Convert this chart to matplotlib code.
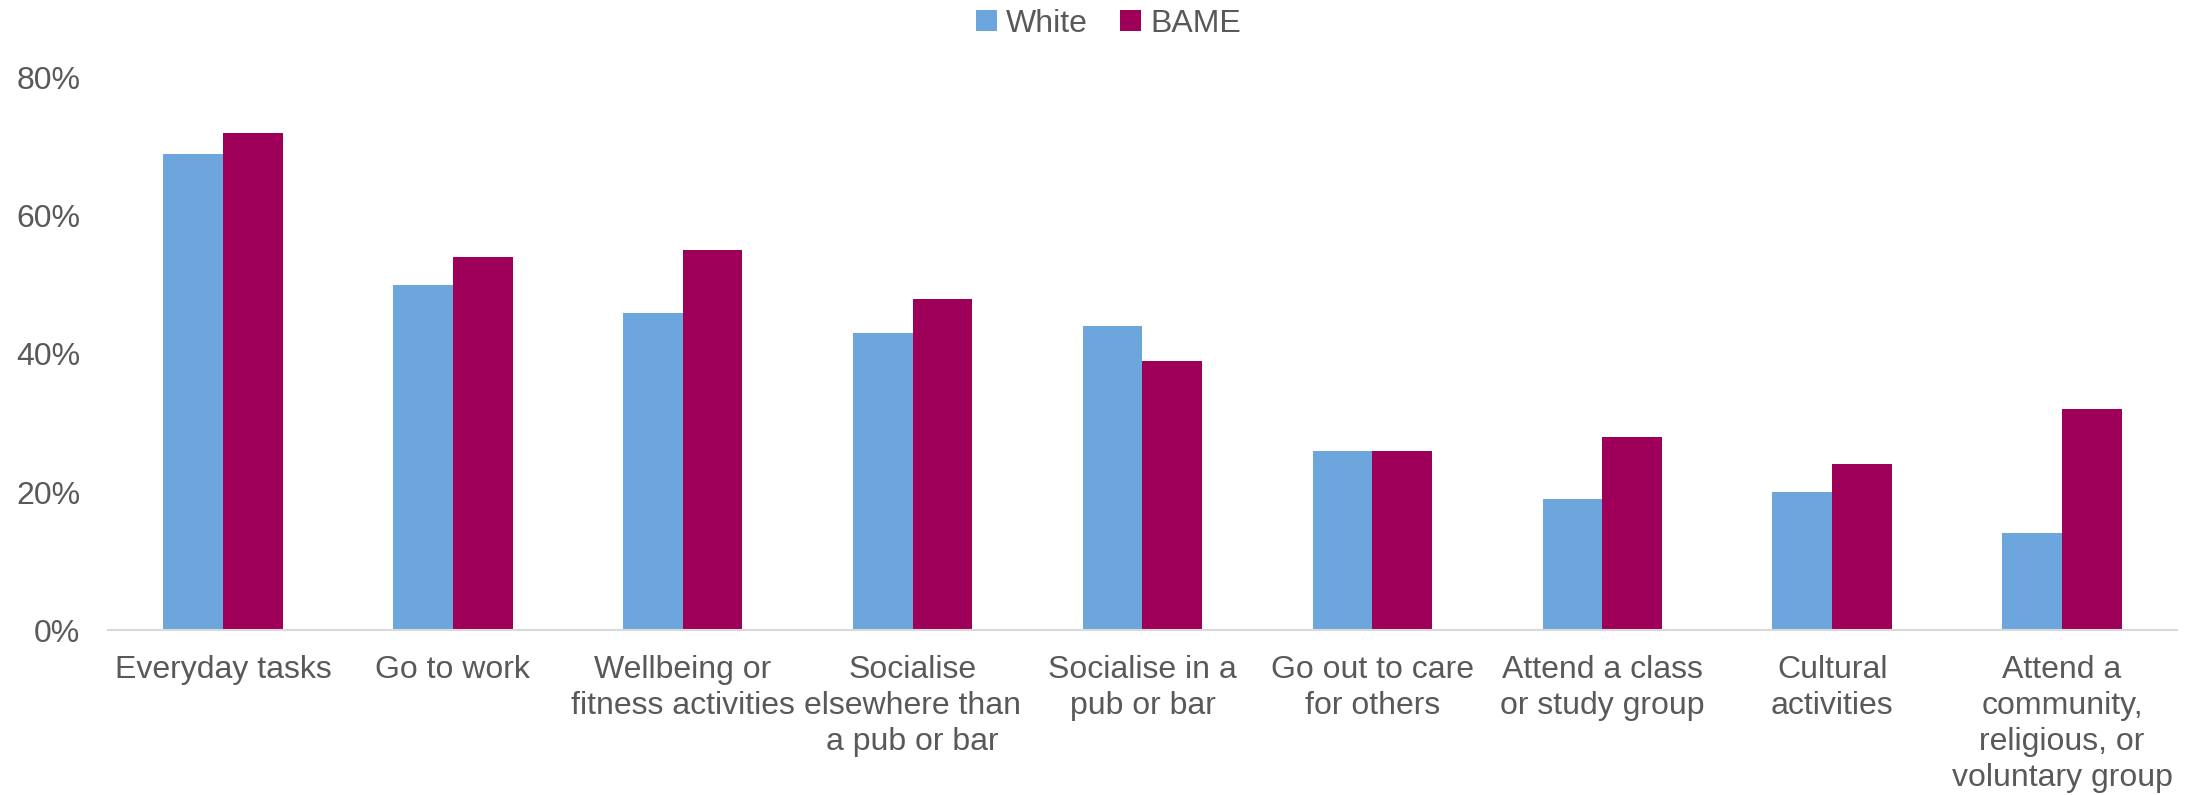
import numpy as np
import matplotlib
matplotlib.use("Agg")
import matplotlib.pyplot as plt

categories = [
    "Everyday tasks",
    "Go to work",
    "Wellbeing or\nfitness activities",
    "Socialise\nelsewhere than\na pub or bar",
    "Socialise in a\npub or bar",
    "Go out to care\nfor others",
    "Attend a class\nor study group",
    "Cultural\nactivities",
    "Attend a\ncommunity,\nreligious, or\nvoluntary group",
]
white = [69, 50, 46, 43, 44, 26, 19, 20, 14]
bame = [72, 54, 55, 48, 39, 26, 28, 24, 32]
yticks = [0, 20, 40, 60, 80]

plt.rcParams["font.family"] = ["Liberation Sans", "DejaVu Sans"]
text_col = "#595959"

fig = plt.figure(figsize=(21.95, 7.95), dpi=100)
ax = fig.add_axes([0.0492, 0.2075, 0.9426, 0.6945])

x = np.arange(len(categories))
w = 0.26
ax.bar(x - w / 2, white, w, color="#6CA6DC", label="White")
ax.bar(x + w / 2, bame, w, color="#9E0059", label="BAME")

ax.set_xlim(-0.5, len(categories) - 0.5)
ax.set_ylim(0, 80)
ax.set_yticks(yticks)
ax.set_yticklabels(["{}%".format(t) for t in yticks])
ax.set_xticks(x)
ax.set_xticklabels(categories, linespacing=1.26, va="top")

for s in ["top", "right", "left"]:
    ax.spines[s].set_visible(False)
ax.spines["bottom"].set_color("#D9D9D9")
ax.spines["bottom"].set_linewidth(1.5)
ax.tick_params(axis="both", length=0, labelsize=23, colors=text_col)
ax.tick_params(axis="x", pad=18)
ax.tick_params(axis="y", pad=20)

fig.legend(loc="upper center", bbox_to_anchor=(0.505, 1.025), ncol=2, frameon=False,
           fontsize=23, labelcolor=text_col, handlelength=0.65, handleheight=0.65,
           handletextpad=0.3, columnspacing=1.0)

fig.savefig("out.png", dpi=100)
